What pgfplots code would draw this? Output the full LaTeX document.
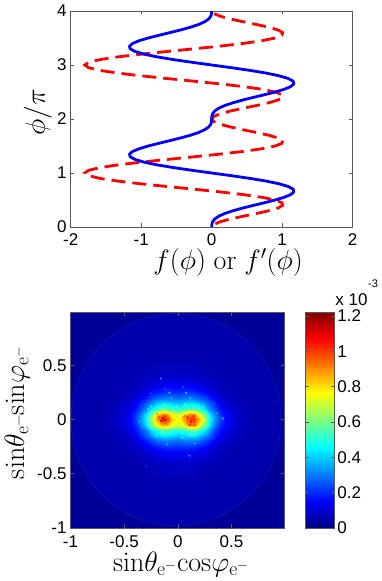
\documentclass[border=0pt]{standalone}
\usepackage{fix-cm}
\usepackage[no-math]{fontspec}
\setmainfont{Liberation Sans}
\usepackage{pgfplots}
\pgfplotsset{compat=1.18}

\definecolor{bgblue}{rgb}{0,0,0.6}
\definecolor{discblue}{rgb}{0,0,0.68}
\definecolor{framegray}{gray}{0.35}

\pgfplotsset{
  base/.style={
    scale only axis,
    axis line style={framegray, line width=0.7pt},
    tick style={framegray, line width=0.5pt},
    tick align=inside,
    major tick length=3.5pt,
    /pgf/number format/assume math mode=true,
    /pgf/number format/fixed,
    tick label style={font=\fontsize{17}{19}\selectfont},
    xticklabel style={yshift=-3.5pt},
    yticklabel style={xshift=-0.5pt},
    label style={font=\fontsize{28}{32}\selectfont},
  },
}

\begin{document}
\begin{tikzpicture}[x=1pt,y=1pt]
\useasboundingbox (0,0) rectangle (381,581);

% top panel
\begin{axis}[base,
  at={(70.7pt,354pt)}, anchor=south west,
  width=282pt, height=216pt,
  xmin=-2, xmax=2, ymin=0, ymax=4,
  xtick={-2,-1,0,1,2}, ytick={0,1,2,3,4},
  xlabel={$f(\phi)\;\mathrm{or}\;f'(\phi)$},
  ylabel={$\phi/\pi$},
  xlabel style={at={(axis description cs:0.558,-0.163)}, anchor=center},
  ylabel style={at={(axis description cs:-0.116,0.532)}, anchor=center},
]
\addplot[red, line width=2.8pt, dash pattern=on 14pt off 7pt, dash phase=16pt] coordinates {
(0.000,0.00) (0.033,0.05) (0.128,0.10) (0.273,0.15) (0.450,0.20) (0.636,0.25) (0.807,0.30) (0.938,0.35)
(1.006,0.40) (0.997,0.45) (0.900,0.50) (0.715,0.55) (0.450,0.60) (0.120,0.65) (-0.251,0.70) (-0.636,0.75)
(-1.006,0.80) (-1.331,0.85) (-1.584,0.90) (-1.745,0.95) (-1.800,1.00) (-1.745,1.05) (-1.584,1.10) (-1.331,1.15)
(-1.006,1.20) (-0.636,1.25) (-0.251,1.30) (0.120,1.35) (0.450,1.40) (0.715,1.45) (0.900,1.50) (0.997,1.55)
(1.006,1.60) (0.938,1.65) (0.807,1.70) (0.636,1.75) (0.450,1.80) (0.273,1.85) (0.128,1.90) (0.033,1.95)
(0.000,2.00) (0.033,2.05) (0.128,2.10) (0.273,2.15) (0.450,2.20) (0.636,2.25) (0.807,2.30) (0.938,2.35)
(1.006,2.40) (0.997,2.45) (0.900,2.50) (0.715,2.55) (0.450,2.60) (0.120,2.65) (-0.251,2.70) (-0.636,2.75)
(-1.006,2.80) (-1.331,2.85) (-1.584,2.90) (-1.745,2.95) (-1.800,3.00) (-1.745,3.05) (-1.584,3.10) (-1.331,3.15)
(-1.006,3.20) (-0.636,3.25) (-0.251,3.30) (0.120,3.35) (0.450,3.40) (0.715,3.45) (0.900,3.50) (0.997,3.55)
(1.006,3.60) (0.938,3.65) (0.807,3.70) (0.636,3.75) (0.450,3.80) (0.273,3.85) (0.128,3.90) (0.033,3.95)
};
\addplot[blue, line width=2.8pt, line join=round] coordinates {
(0.000,0.00) (0.002,0.05) (0.014,0.10) (0.045,0.15) (0.101,0.20) (0.186,0.25) (0.300,0.30) (0.438,0.35)
(0.591,0.40) (0.750,0.45) (0.900,0.50) (1.028,0.55) (1.121,0.60) (1.166,0.65) (1.156,0.70) (1.086,0.75)
(0.957,0.80) (0.773,0.85) (0.543,0.90) (0.280,0.95) (0.000,1.00) (-0.280,1.05) (-0.543,1.10) (-0.773,1.15)
(-0.957,1.20) (-1.086,1.25) (-1.156,1.30) (-1.166,1.35) (-1.121,1.40) (-1.028,1.45) (-0.900,1.50) (-0.750,1.55)
(-0.591,1.60) (-0.438,1.65) (-0.300,1.70) (-0.186,1.75) (-0.101,1.80) (-0.045,1.85) (-0.014,1.90) (-0.002,1.95)
(0.000,2.00) (0.002,2.05) (0.014,2.10) (0.045,2.15) (0.101,2.20) (0.186,2.25) (0.300,2.30) (0.438,2.35)
(0.591,2.40) (0.750,2.45) (0.900,2.50) (1.028,2.55) (1.121,2.60) (1.166,2.65) (1.156,2.70) (1.086,2.75)
(0.957,2.80) (0.773,2.85) (0.543,2.90) (0.280,2.95) (0.000,3.00) (-0.280,3.05) (-0.543,3.10) (-0.773,3.15)
(-0.957,3.20) (-1.086,3.25) (-1.156,3.30) (-1.166,3.35) (-1.121,3.40) (-1.028,3.45) (-0.900,3.50) (-0.750,3.55)
(-0.591,3.60) (-0.438,3.65) (-0.300,3.70) (-0.186,3.75) (-0.101,3.80) (-0.045,3.85) (-0.014,3.90) (-0.002,3.95)
(0.000,4.00)
};
\end{axis}

% bottom panel
\begin{axis}[base,
  at={(70.5pt,53pt)}, anchor=south west,
  width=213.5pt, height=216pt,
  xmin=-1, xmax=0.99, ymin=-1, ymax=0.99,
  xtick={-1,-0.5,0,0.5}, ytick={-1,-0.5,0,0.5},
  xticklabels={-1,-0.5,0,0.5}, yticklabels={-1,-0.5,0,0.5},
  xticklabel style={yshift=-1pt},
  axis on top,
  axis background/.style={fill=bgblue},
  colormap/jet, point meta min=0, point meta max=1.223,
  xlabel={$\mathrm{sin}\theta_{\mathrm{e}^-}\mathrm{cos}\varphi_{\mathrm{e}^-}$},
  ylabel={$\mathrm{sin}\theta_{\mathrm{e}^-}\mathrm{sin}\varphi_{\mathrm{e}^-}$},
  xlabel style={at={(axis description cs:0.518,-0.168)}, anchor=center},
  ylabel style={at={(axis description cs:-0.25,0.535)}, anchor=center},
]
\addplot[fill=discblue, draw=discblue!88!cyan, line width=0.5pt, smooth cycle] coordinates {
(0.965,0) (0.932,0.254) (0.834,0.49) (0.678,0.693) (0.475,0.849) (0.239,0.947) (-0.015,0.98)
(-0.269,0.947) (-0.505,0.849) (-0.708,0.693) (-0.864,0.49) (-0.962,0.254) (-0.995,0)
(-0.962,-0.254) (-0.864,-0.49) (-0.708,-0.693) (-0.505,-0.849) (-0.269,-0.947) (-0.015,-0.98)
(0.239,-0.947) (0.475,-0.849) (0.678,-0.693) (0.834,-0.49) (0.932,-0.254)
};
\addplot[surf, shader=interp, mesh/cols=23, point meta=explicit] coordinates {
(-.7,-.7)[.055] (-.55,-.7)[.055] (-.45,-.7)[.055] (-.4,-.7)[.055] (-.35,-.7)[.055] (-.3,-.7)[.055] (-.25,-.7)[.055] (-.2,-.7)[.055] (-.15,-.7)[.055] (-.1,-.7)[.055] (-.05,-.7)[.055] (0,-.7)[.055] (.05,-.7)[.055] (.1,-.7)[.055] (.15,-.7)[.055] (.2,-.7)[.055] (.25,-.7)[.055] (.3,-.7)[.055] (.35,-.7)[.055] (.4,-.7)[.055] (.45,-.7)[.055] (.55,-.7)[.055] (.7,-.7)[.055]
(-.7,-.55)[.055] (-.55,-.55)[.055] (-.45,-.55)[.055] (-.4,-.55)[.055] (-.35,-.55)[.055] (-.3,-.55)[.055] (-.25,-.55)[.055] (-.2,-.55)[.06] (-.15,-.55)[.06] (-.1,-.55)[.06] (-.05,-.55)[.06] (0,-.55)[.06] (.05,-.55)[.06] (.1,-.55)[.06] (.15,-.55)[.06] (.2,-.55)[.06] (.25,-.55)[.055] (.3,-.55)[.055] (.35,-.55)[.055] (.4,-.55)[.055] (.45,-.55)[.055] (.55,-.55)[.055] (.7,-.55)[.055]
(-.7,-.4)[.055] (-.55,-.4)[.055] (-.45,-.4)[.06] (-.4,-.4)[.06] (-.35,-.4)[.065] (-.3,-.4)[.07] (-.25,-.4)[.075] (-.2,-.4)[.08] (-.15,-.4)[.085] (-.1,-.4)[.09] (-.05,-.4)[.09] (0,-.4)[.09] (.05,-.4)[.09] (.1,-.4)[.09] (.15,-.4)[.085] (.2,-.4)[.08] (.25,-.4)[.075] (.3,-.4)[.07] (.35,-.4)[.065] (.4,-.4)[.06] (.45,-.4)[.06] (.55,-.4)[.055] (.7,-.4)[.055]
(-.7,-.3)[.055] (-.55,-.3)[.06] (-.45,-.3)[.065] (-.4,-.3)[.07] (-.35,-.3)[.08] (-.3,-.3)[.1] (-.25,-.3)[.11] (-.2,-.3)[.13] (-.15,-.3)[.14] (-.1,-.3)[.15] (-.05,-.3)[.15] (0,-.3)[.15] (.05,-.3)[.15] (.1,-.3)[.15] (.15,-.3)[.14] (.2,-.3)[.13] (.25,-.3)[.11] (.3,-.3)[.1] (.35,-.3)[.08] (.4,-.3)[.07] (.45,-.3)[.065] (.55,-.3)[.06] (.7,-.3)[.055]
(-.7,-.25)[.055] (-.55,-.25)[.06] (-.45,-.25)[.07] (-.4,-.25)[.08] (-.35,-.25)[.1] (-.3,-.25)[.13] (-.25,-.25)[.16] (-.2,-.25)[.18] (-.15,-.25)[.2] (-.1,-.25)[.21] (-.05,-.25)[.21] (0,-.25)[.2] (.05,-.25)[.21] (.1,-.25)[.21] (.15,-.25)[.2] (.2,-.25)[.18] (.25,-.25)[.16] (.3,-.25)[.13] (.35,-.25)[.1] (.4,-.25)[.08] (.45,-.25)[.07] (.55,-.25)[.06] (.7,-.25)[.055]
(-.7,-.2)[.055] (-.55,-.2)[.065] (-.45,-.2)[.08] (-.4,-.2)[.1] (-.35,-.2)[.14] (-.3,-.2)[.18] (-.25,-.2)[.23] (-.2,-.2)[.27] (-.15,-.2)[.29] (-.1,-.2)[.3] (-.05,-.2)[.29] (0,-.2)[.28] (.05,-.2)[.29] (.1,-.2)[.3] (.15,-.2)[.29] (.2,-.2)[.27] (.25,-.2)[.23] (.3,-.2)[.18] (.35,-.2)[.14] (.4,-.2)[.1] (.45,-.2)[.08] (.55,-.2)[.065] (.7,-.2)[.055]
(-.7,-.15)[.055] (-.55,-.15)[.07] (-.45,-.15)[.1] (-.4,-.15)[.13] (-.35,-.15)[.19] (-.3,-.15)[.26] (-.25,-.15)[.32] (-.2,-.15)[.38] (-.15,-.15)[.42] (-.1,-.15)[.42] (-.05,-.15)[.4] (0,-.15)[.38] (.05,-.15)[.4] (.1,-.15)[.42] (.15,-.15)[.42] (.2,-.15)[.38] (.25,-.15)[.32] (.3,-.15)[.26] (.35,-.15)[.19] (.4,-.15)[.13] (.45,-.15)[.1] (.55,-.15)[.07] (.7,-.15)[.055]
(-.7,-.1)[.055] (-.55,-.1)[.08] (-.45,-.1)[.12] (-.4,-.1)[.17] (-.35,-.1)[.23] (-.3,-.1)[.31] (-.25,-.1)[.42] (-.2,-.1)[.5] (-.15,-.1)[.56] (-.1,-.1)[.56] (-.05,-.1)[.52] (0,-.1)[.5] (.05,-.1)[.52] (.1,-.1)[.57] (.15,-.1)[.58] (.2,-.1)[.52] (.25,-.1)[.42] (.3,-.1)[.31] (.35,-.1)[.23] (.4,-.1)[.16] (.45,-.1)[.12] (.55,-.1)[.08] (.7,-.1)[.055]
(-.7,-.05)[.055] (-.55,-.05)[.09] (-.45,-.05)[.14] (-.4,-.05)[.2] (-.35,-.05)[.29] (-.3,-.05)[.42] (-.25,-.05)[.58] (-.2,-.05)[.74] (-.15,-.05)[.86] (-.1,-.05)[.86] (-.05,-.05)[.74] (0,-.05)[.72] (.05,-.05)[.76] (.1,-.05)[.92] (.15,-.05)[.92] (.2,-.05)[.76] (.25,-.05)[.58] (.3,-.05)[.42] (.35,-.05)[.29] (.4,-.05)[.19] (.45,-.05)[.14] (.55,-.05)[.09] (.7,-.05)[.055]
(-.7,0)[.055] (-.55,0)[.09] (-.45,0)[.15] (-.4,0)[.22] (-.35,0)[.32] (-.3,0)[.46] (-.25,0)[.66] (-.2,0)[.85] (-.15,0)[1.05] (-.1,0)[1.0] (-.05,0)[.82] (0,0)[.74] (.05,0)[.86] (.1,0)[1.0] (.15,0)[1.02] (.2,0)[.85] (.25,0)[.66] (.3,0)[.46] (.35,0)[.33] (.4,0)[.22] (.45,0)[.15] (.55,0)[.09] (.7,0)[.055]
(-.7,.05)[.055] (-.55,.05)[.09] (-.45,.05)[.14] (-.4,.05)[.2] (-.35,.05)[.29] (-.3,.05)[.42] (-.25,.05)[.58] (-.2,.05)[.75] (-.15,.05)[.9] (-.1,.05)[.88] (-.05,.05)[.74] (0,.05)[.7] (.05,.05)[.76] (.1,.05)[.9] (.15,.05)[.88] (.2,.05)[.75] (.25,.05)[.58] (.3,.05)[.42] (.35,.05)[.3] (.4,.05)[.2] (.45,.05)[.14] (.55,.05)[.09] (.7,.05)[.055]
(-.7,.1)[.055] (-.55,.1)[.08] (-.45,.1)[.12] (-.4,.1)[.17] (-.35,.1)[.23] (-.3,.1)[.31] (-.25,.1)[.42] (-.2,.1)[.5] (-.15,.1)[.58] (-.1,.1)[.57] (-.05,.1)[.52] (0,.1)[.5] (.05,.1)[.52] (.1,.1)[.57] (.15,.1)[.57] (.2,.1)[.52] (.25,.1)[.42] (.3,.1)[.31] (.35,.1)[.24] (.4,.1)[.17] (.45,.1)[.12] (.55,.1)[.08] (.7,.1)[.055]
(-.7,.15)[.055] (-.55,.15)[.07] (-.45,.15)[.1] (-.4,.15)[.13] (-.35,.15)[.19] (-.3,.15)[.26] (-.25,.15)[.32] (-.2,.15)[.38] (-.15,.15)[.42] (-.1,.15)[.42] (-.05,.15)[.4] (0,.15)[.38] (.05,.15)[.4] (.1,.15)[.42] (.15,.15)[.42] (.2,.15)[.38] (.25,.15)[.32] (.3,.15)[.26] (.35,.15)[.19] (.4,.15)[.13] (.45,.15)[.1] (.55,.15)[.07] (.7,.15)[.055]
(-.7,.2)[.055] (-.55,.2)[.065] (-.45,.2)[.08] (-.4,.2)[.1] (-.35,.2)[.14] (-.3,.2)[.18] (-.25,.2)[.23] (-.2,.2)[.27] (-.15,.2)[.29] (-.1,.2)[.3] (-.05,.2)[.29] (0,.2)[.28] (.05,.2)[.29] (.1,.2)[.3] (.15,.2)[.29] (.2,.2)[.27] (.25,.2)[.23] (.3,.2)[.18] (.35,.2)[.14] (.4,.2)[.1] (.45,.2)[.08] (.55,.2)[.065] (.7,.2)[.055]
(-.7,.25)[.055] (-.55,.25)[.06] (-.45,.25)[.07] (-.4,.25)[.08] (-.35,.25)[.1] (-.3,.25)[.13] (-.25,.25)[.16] (-.2,.25)[.18] (-.15,.25)[.2] (-.1,.25)[.21] (-.05,.25)[.21] (0,.25)[.2] (.05,.25)[.21] (.1,.25)[.21] (.15,.25)[.2] (.2,.25)[.18] (.25,.25)[.16] (.3,.25)[.13] (.35,.25)[.1] (.4,.25)[.08] (.45,.25)[.07] (.55,.25)[.06] (.7,.25)[.055]
(-.7,.3)[.055] (-.55,.3)[.06] (-.45,.3)[.065] (-.4,.3)[.07] (-.35,.3)[.08] (-.3,.3)[.1] (-.25,.3)[.11] (-.2,.3)[.13] (-.15,.3)[.14] (-.1,.3)[.15] (-.05,.3)[.15] (0,.3)[.15] (.05,.3)[.15] (.1,.3)[.15] (.15,.3)[.14] (.2,.3)[.13] (.25,.3)[.11] (.3,.3)[.1] (.35,.3)[.08] (.4,.3)[.07] (.45,.3)[.065] (.55,.3)[.06] (.7,.3)[.055]
(-.7,.4)[.055] (-.55,.4)[.055] (-.45,.4)[.06] (-.4,.4)[.06] (-.35,.4)[.065] (-.3,.4)[.07] (-.25,.4)[.075] (-.2,.4)[.08] (-.15,.4)[.085] (-.1,.4)[.09] (-.05,.4)[.09] (0,.4)[.09] (.05,.4)[.09] (.1,.4)[.09] (.15,.4)[.085] (.2,.4)[.08] (.25,.4)[.075] (.3,.4)[.07] (.35,.4)[.065] (.4,.4)[.06] (.45,.4)[.06] (.55,.4)[.055] (.7,.4)[.055]
(-.7,.55)[.055] (-.55,.55)[.055] (-.45,.55)[.055] (-.4,.55)[.055] (-.35,.55)[.055] (-.3,.55)[.055] (-.25,.55)[.055] (-.2,.55)[.06] (-.15,.55)[.06] (-.1,.55)[.06] (-.05,.55)[.06] (0,.55)[.06] (.05,.55)[.06] (.1,.55)[.06] (.15,.55)[.06] (.2,.55)[.06] (.25,.55)[.055] (.3,.55)[.055] (.35,.55)[.055] (.4,.55)[.055] (.45,.55)[.055] (.55,.55)[.055] (.7,.55)[.055]
(-.7,.7)[.055] (-.55,.7)[.055] (-.45,.7)[.055] (-.4,.7)[.055] (-.35,.7)[.055] (-.3,.7)[.055] (-.25,.7)[.055] (-.2,.7)[.055] (-.15,.7)[.055] (-.1,.7)[.055] (-.05,.7)[.055] (0,.7)[.055] (.05,.7)[.055] (.1,.7)[.055] (.15,.7)[.055] (.2,.7)[.055] (.25,.7)[.055] (.3,.7)[.055] (.35,.7)[.055] (.4,.7)[.055] (.45,.7)[.055] (.55,.7)[.055] (.7,.7)[.055]
};
\addplot[scatter, only marks, mark=*, mark size=0.8pt, scatter/use mapped color={draw=mapped color, fill=mapped color}, point meta=explicit] coordinates {
(-.159,.377)[.33] (-.539,.262)[.16] (-.078,.247)[.42] (.078,.247)[.42] (.42,.009)[.42] (.108,-.333)[.33] (-.296,-.432)[.2] (.121,-.509)[.16] (.482,-.17)[.16]
(-.14,.015)[1.2] (-.12,-.005)[1.2] (-.155,-.015)[1.12] (-.115,.03)[1.1] (.09,.02)[1.15] (.125,-.02)[1.12] (.15,.03)[1.08] (.11,-.05)[1.05] (.06,.03)[1.0] (.16,-.055)[.98] (-.18,.02)[1.0] (-.09,.015)[1.0]
(-.19,.05)[.92] (.22,.03)[.78] (-.05,.07)[.78] (-.23,-.06)[.7] (.26,-.05)[.66] (-.03,-.14)[.5] (.04,-.17)[.45] (-.2,-.15)[.48] (.2,.13)[.52] (-.28,.1)[.45] (.3,-.1)[.4] (-.06,.2)[.38] (.12,.2)[.38] (-.33,-.08)[.34] (.36,.06)[.38]
(-.25,.12)[.5] (.24,.12)[.48] (-.12,.13)[.6] (.07,.14)[.55] (-.14,-.13)[.58] (.13,-.14)[.55] (-.24,-.13)[.42] (.27,-.14)[.38] (-.36,-.02)[.38] (-.01,.12)[.58] (.01,-.1)[.6] (.18,-.09)[.68] (-.06,-.08)[.68] (-.35,.13)[.26] (.34,.15)[.28] (-.1,-.23)[.36] (.16,-.22)[.36] (.28,.2)[.26] (-.25,.24)[.26] (.05,.3)[.26] (-.12,.28)[.26]
};
\end{axis}

% colour scale
\begin{axis}[base,
  at={(305.7pt,53pt)}, anchor=south west,
  width=28.6pt, height=216pt,
  xmin=0, xmax=1, ymin=0, ymax=1.223,
  xtick=\empty,
  ytick={0,0.2,0.4,0.6,0.8,1,1.2},
  yticklabels={0,0.2,0.4,0.6,0.8,1,1.2},
  ytick pos=both, yticklabel pos=right,
  axis on top,
  colormap/jet, point meta min=0, point meta max=1.223,
]
\addplot[surf, shader=interp, mesh/cols=2, point meta=explicit] coordinates {
(0,0)[0] (1,0)[0] (0,0.153)[0.153] (1,0.153)[0.153] (0,0.459)[0.459] (1,0.459)[0.459]
(0,0.764)[0.764] (1,0.764)[0.764] (0,1.07)[1.07] (1,1.07)[1.07] (0,1.223)[1.223] (1,1.223)[1.223]
};
\end{axis}

\node[font=\fontsize{17}{19}\selectfont, anchor=center] at (351.5,281) {x 10};
\node[font=\fontsize{11}{13}\selectfont, anchor=center] at (373,297) {-3};
\end{tikzpicture}
\end{document}
